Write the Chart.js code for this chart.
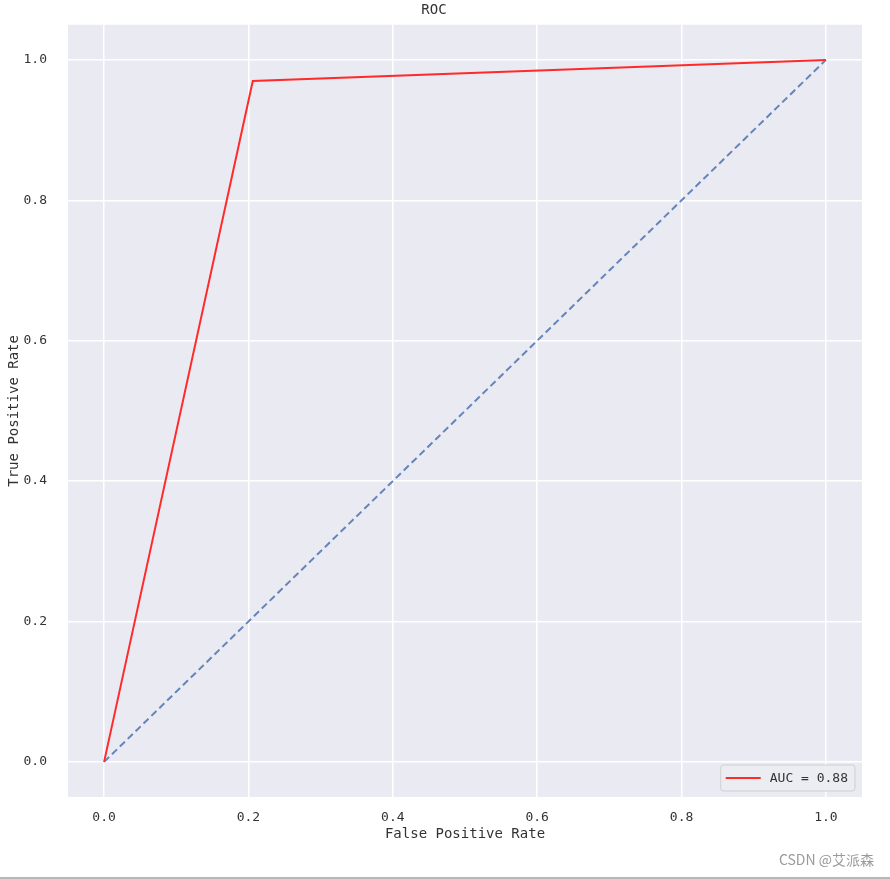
<!DOCTYPE html>
<html>
<head>
<meta charset="utf-8">
<script src="https://cdn.jsdelivr.net/npm/chart.js@4.4.1/dist/chart.umd.min.js"></script>
<style>
  html, body { margin: 0; padding: 0; background: #fff; }
  #wrap { position: relative; width: 890px; height: 879px; }
  canvas { display: block; }
  #wm { position: absolute; right: 16px; bottom: 10px; font-family: "Noto Sans CJK SC", sans-serif; font-size: 14px; color: #9a9a9a; }
  #bar { position: absolute; left: 0; right: 0; bottom: 0; height: 2px; background: #b8b8b8; }
</style>
</head>
<body>
<div id="wrap">
<canvas id="c" width="890" height="879"></canvas>
<div id="wm">CSDN @艾派森</div>
<div id="bar"></div>
</div>
<script>
// Data
const fprValues = [0, 0.206, 1];
const tprValues = [0, 0.970, 1];
const diagX = [0, 1];
const diagY = [0, 1];
const xTickValues = [0, 0.2, 0.4, 0.6, 0.8, 1.0];
const yTickValues = [0, 0.2, 0.4, 0.6, 0.8, 1.0];
const rocLabel = 'AUC = 0.88';

const FONT = '"DejaVu Sans Mono", monospace';

const bgPlugin = {
  id: 'bgPlugin',
  beforeDraw(chart) {
    const a = chart.chartArea, ctx = chart.ctx;
    ctx.save();
    ctx.fillStyle = '#EAEAF2';
    ctx.fillRect(a.left, a.top, a.right - a.left, a.bottom - a.top);
    ctx.restore();
  }
};

const legendPlugin = {
  id: 'legendInside',
  afterDraw(chart) {
    const a = chart.chartArea, ctx = chart.ctx;
    const ds = chart.data.datasets[0];
    ctx.save();
    ctx.font = '13px ' + FONT;
    const tw = ctx.measureText(ds.label).width;
    const w = 5 + 35 + 9 + tw + 7;
    const h = 26;
    const x = a.right - 7 - w, y = a.bottom - 6 - h;
    ctx.beginPath();
    ctx.roundRect(x, y, w, h, 3);
    ctx.fillStyle = 'rgba(236,236,243,0.9)';
    ctx.fill();
    ctx.strokeStyle = '#d0d0d0';
    ctx.lineWidth = 1;
    ctx.stroke();
    ctx.beginPath();
    ctx.moveTo(x + 5, y + h / 2);
    ctx.lineTo(x + 40, y + h / 2);
    ctx.strokeStyle = ds.borderColor;
    ctx.lineWidth = 2;
    ctx.stroke();
    ctx.fillStyle = '#333';
    ctx.textBaseline = 'middle';
    ctx.fillText(ds.label, x + 49, y + h / 2 + 1);
    ctx.restore();
  }
};

new Chart(document.getElementById('c'), {
  type: 'scatter',
  data: {
    datasets: [
      {
        label: rocLabel,
        data: fprValues.map((v, i) => ({ x: v, y: tprValues[i] })),
        showLine: true,
        borderColor: '#ff2a2a',
        borderWidth: 2,
        pointRadius: 0,
        fill: false,
        tension: 0
      },
      {
        label: 'diag',
        data: diagX.map((v, i) => ({ x: v, y: diagY[i] })),
        showLine: true,
        borderColor: 'rgba(76,114,176,0.85)',
        borderWidth: 2,
        borderDash: [7, 4],
        pointRadius: 0,
        fill: false
      }
    ]
  },
  plugins: [bgPlugin, legendPlugin],
  options: {
    responsive: false,
    animation: false,
    devicePixelRatio: 1,
    layout: { padding: { left: 6, right: 28, top: 0, bottom: 36 } },
    plugins: {
      legend: { display: false },
      tooltip: { enabled: false },
      title: {
        display: true,
        text: 'ROC',
        color: '#333',
        font: { family: FONT, size: 14, weight: 'normal' },
        padding: { top: 2, bottom: 6 }
      }
    },
    scales: {
      x: {
        type: 'linear',
        min: -0.05,
        max: 1.05,
        afterBuildTicks(scale) { scale.ticks = xTickValues.map(v => ({ value: v })); },
        afterFit(scale) { scale.height = 46; scale.paddingLeft = 0; scale.paddingRight = 0; },
        ticks: {
          color: '#333',
          font: { family: FONT, size: 13 },
          padding: 13,
          callback: v => v.toFixed(1)
        },
        grid: { color: '#ffffff', lineWidth: 1.5, drawTicks: false },
        border: { display: false },
        title: {
          display: true,
          text: 'False Positive Rate',
          color: '#333',
          font: { family: FONT, size: 14 },
          padding: { top: 0, bottom: 0 }
        }
      },
      y: {
        type: 'linear',
        min: -0.05,
        max: 1.05,
        afterBuildTicks(scale) { scale.ticks = yTickValues.map(v => ({ value: v })); },
        afterFit(scale) { scale.width = 62; scale.paddingTop = 0; scale.paddingBottom = 0; },
        ticks: {
          color: '#333',
          font: { family: FONT, size: 13 },
          padding: 21,
          callback: v => v.toFixed(1)
        },
        grid: { color: '#ffffff', lineWidth: 1.5, drawTicks: false },
        border: { display: false },
        title: {
          display: true,
          text: 'True Positive Rate',
          color: '#333',
          font: { family: FONT, size: 14 },
          padding: { top: 0, bottom: 0 }
        }
      }
    }
  }
});
</script>
</body>
</html>
